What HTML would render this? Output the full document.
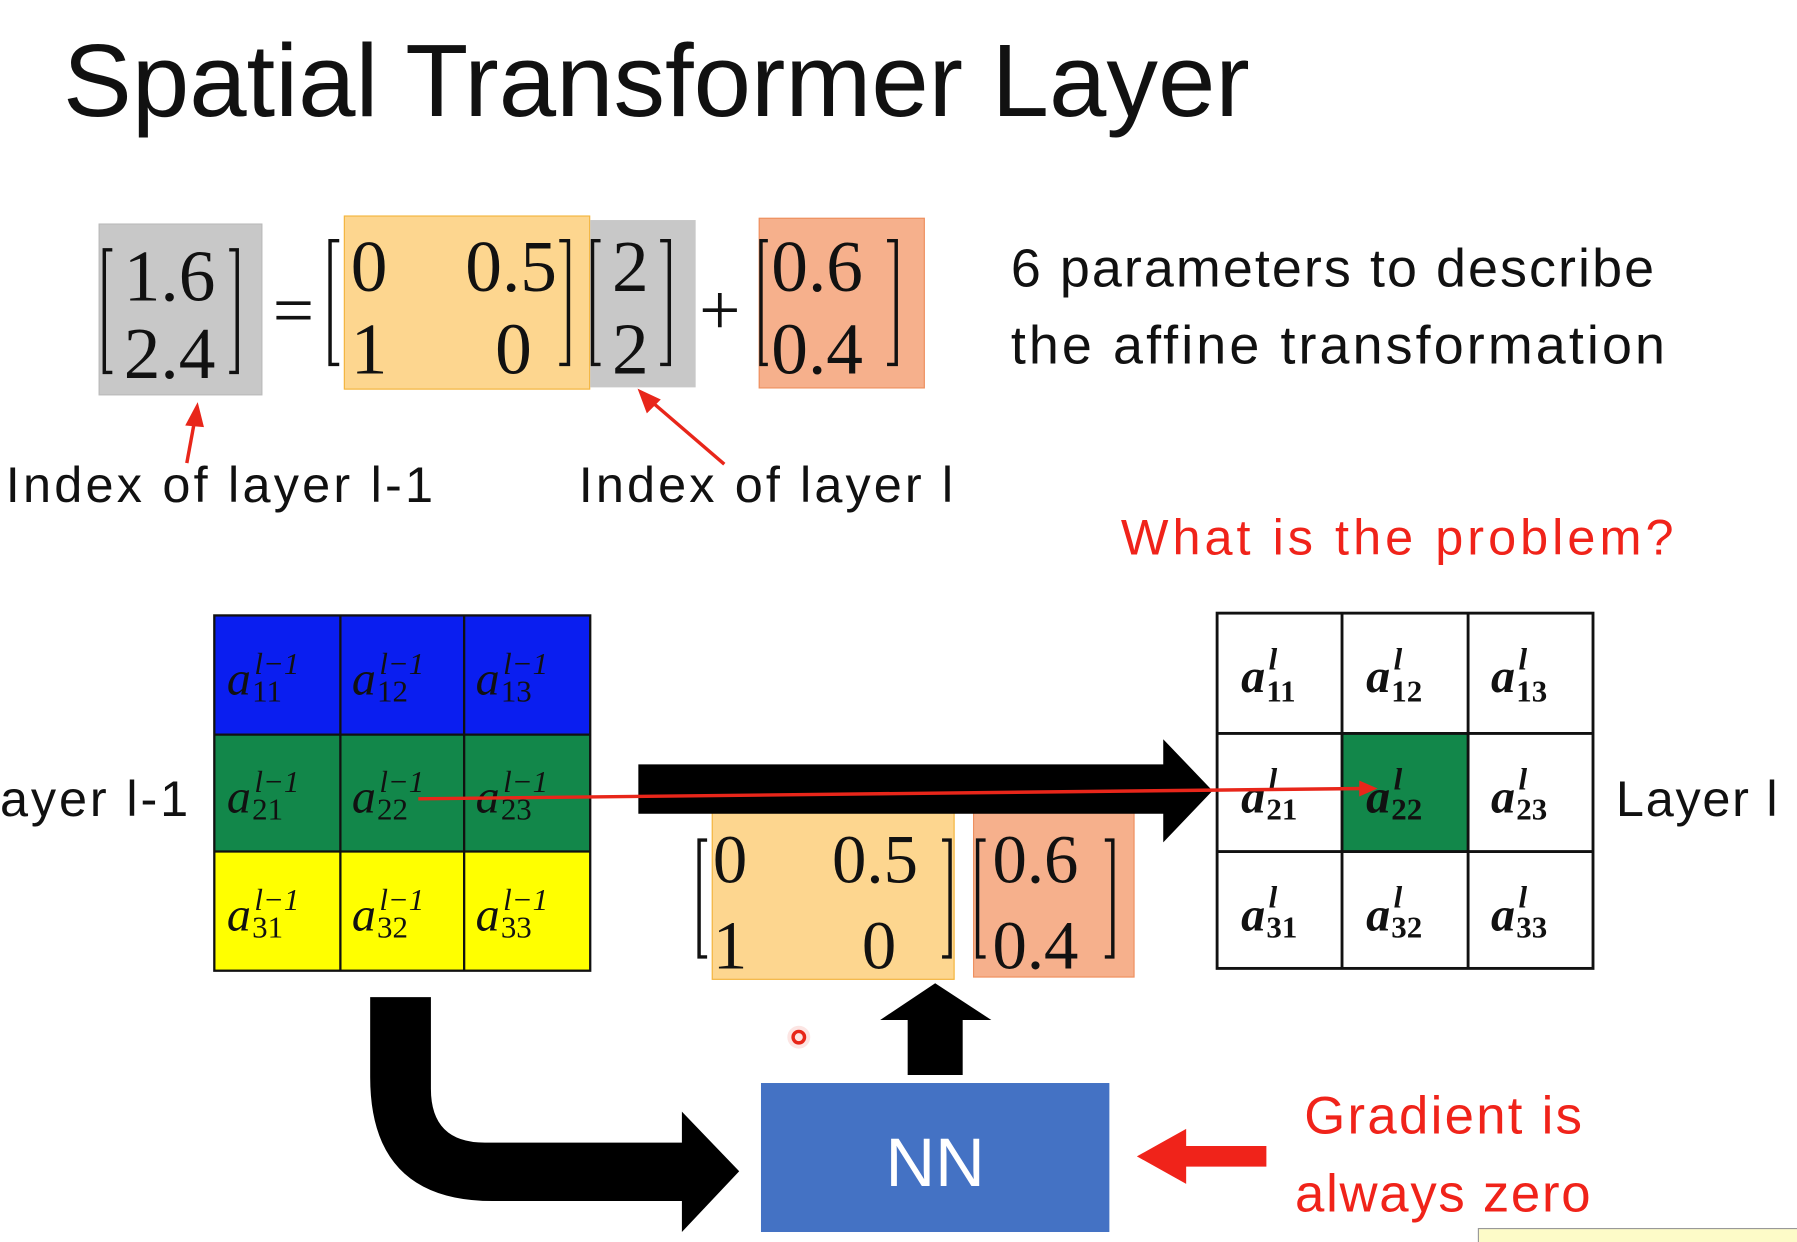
<!DOCTYPE html>
<html><head><meta charset="utf-8"><style>
html,body{margin:0;padding:0;background:#fff;width:1797px;height:1242px;overflow:hidden}
#s{position:absolute;left:0;top:0;width:1568px;height:1084px;transform:scale(1.14605);transform-origin:0 0;font-family:"Liberation Sans",sans-serif}
.a{position:absolute}
.t{position:absolute;white-space:nowrap;line-height:1;letter-spacing:2.5px}
</style></head><body><div id="s">
<div class="t" style="left:55px;top:26px;font-size:90px;color:#111;letter-spacing:0">Spatial Transformer Layer</div>

<div class="a" style="left:86px;top:195px;width:141px;height:148px;background:#c8c8c8;border:1px solid #bbb"></div>
<div class="a" style="left:300px;top:188px;width:213px;height:150px;background:#fdd68f;border:1px solid #f3b540"></div>
<div class="a" style="left:515px;top:192px;width:92px;height:146px;background:#c8c8c8"></div>
<div class="a" style="left:662px;top:190px;width:143px;height:147px;background:#f6b08c;border:1px solid #ee9060"></div>
<div class="a" style="left:621px;top:705px;width:212px;height:150px;background:#fdd68f;border:1px solid #f3b540;box-sizing:border-box"></div>
<div class="a" style="left:849px;top:707px;width:141px;height:146px;background:#f6b08c;border:1px solid #ee9060;box-sizing:border-box"></div>
<div class="a" style="left:187px;top:537px;width:328px;height:104px;background:#0a1ef0"></div>
<div class="a" style="left:187px;top:641px;width:328px;height:102px;background:#12874a"></div>
<div class="a" style="left:187px;top:743px;width:328px;height:104px;background:#ffff00"></div>

<svg class="a" style="left:0;top:0" width="1568" height="1084">
<g font-family="Liberation Serif,serif" font-size="64" fill="#111">
<text x="108" y="262">1.6</text><text x="108" y="330">2.4</text>
<text x="306" y="254">0</text><text x="406" y="254">0.5</text>
<text x="306" y="326">1</text><text x="432" y="326">0</text>
<text x="534" y="254">2</text><text x="534" y="326">2</text>
<text x="673" y="254">0.6</text><text x="673" y="326">0.4</text>
<text x="238" y="292" font-size="64">=</text>
<text x="610" y="292" font-size="64">+</text>
<text x="622" y="770" font-size="60">0</text><text x="726" y="770" font-size="60">0.5</text>
<text x="622" y="845" font-size="60">1</text><text x="752" y="845" font-size="60">0</text>
<text x="866" y="770" font-size="60">0.6</text><text x="866" y="845" font-size="60">0.4</text>
</g>
<g fill="none" stroke="#111" stroke-width="3">
<path d="M98 218 H91 V325 H98"/><path d="M200 218 H207 V325 H200"/>
<path d="M296 210 H288 V318 H296"/><path d="M488 210 H496 V318 H488"/>
<path d="M524 210 H517 V318 H524"/><path d="M576 210 H584 V318 H576"/>
<path d="M670 210 H664 V318 H670"/><path d="M774 210 H782 V318 H774"/>
<path d="M617 733 H610 V835 H617"/><path d="M822 733 H829 V835 H822"/>
<path d="M860 733 H853 V835 H860"/><path d="M964 733 H971 V835 H964"/>
</g>
<g stroke="#e8261a" stroke-width="3" fill="#e8261a">
<line x1="163" y1="404" x2="170" y2="366"/><polygon points="172,355 164,370 176,371"/>
<line x1="632" y1="405" x2="568" y2="350"/><polygon points="559,342 565,358 574,349"/>
</g>

<g stroke="#111" stroke-width="2" fill="none">
<rect x="187" y="537" width="328" height="310"/>
<line x1="297" y1="537" x2="297" y2="847"/><line x1="405" y1="537" x2="405" y2="847"/>
<line x1="187" y1="641" x2="515" y2="641"/><line x1="187" y1="743" x2="515" y2="743"/>
</g>
<rect x="1171" y="640" width="110" height="103" fill="#12874a"/>
<g stroke="#111" stroke-width="2.5" fill="none">
<rect x="1062" y="535" width="328" height="310"/>
<line x1="1171" y1="535" x2="1171" y2="845"/><line x1="1281" y1="535" x2="1281" y2="845"/>
<line x1="1062" y1="640" x2="1390" y2="640"/><line x1="1062" y1="743" x2="1390" y2="743"/>
</g>

<g font-family="Liberation Serif,serif" font-style="italic" fill="#111">
<g font-size="42">
<text x="198" y="606">a</text><text x="307" y="606">a</text><text x="415" y="606">a</text>
<text x="198" y="709">a</text><text x="307" y="709">a</text><text x="415" y="709">a</text>
<text x="198" y="812">a</text><text x="307" y="812">a</text><text x="415" y="812">a</text>
</g>
<g font-size="27">
<text x="222" y="588">l−1</text><text x="331" y="588">l−1</text><text x="439" y="588">l−1</text>
<text x="222" y="691">l−1</text><text x="331" y="691">l−1</text><text x="439" y="691">l−1</text>
<text x="222" y="794">l−1</text><text x="331" y="794">l−1</text><text x="439" y="794">l−1</text>
</g>
<g font-size="27" font-style="normal">
<text x="220" y="612">11</text><text x="329" y="612">12</text><text x="437" y="612">13</text>
<text x="220" y="715">21</text><text x="329" y="715">22</text><text x="437" y="715">23</text>
<text x="220" y="818">31</text><text x="329" y="818">32</text><text x="437" y="818">33</text>
</g>
<g font-weight="bold">
<g font-size="42">
<text x="1083" y="604">a</text><text x="1192" y="604">a</text><text x="1301" y="604">a</text>
<text x="1083" y="709">a</text><text x="1192" y="709">a</text><text x="1301" y="709">a</text>
<text x="1083" y="812">a</text><text x="1192" y="812">a</text><text x="1301" y="812">a</text>
</g>
<g font-size="27">
<text x="1107" y="584">l</text><text x="1216" y="584">l</text><text x="1325" y="584">l</text>
<text x="1107" y="689">l</text><text x="1216" y="689">l</text><text x="1325" y="689">l</text>
<text x="1107" y="792">l</text><text x="1216" y="792">l</text><text x="1325" y="792">l</text>
</g>
<g font-size="27" font-style="normal">
<text x="1105" y="612">11</text><text x="1214" y="612">12</text><text x="1323" y="612">13</text>
<text x="1105" y="715">21</text><text x="1214" y="715">22</text><text x="1323" y="715">23</text>
<text x="1105" y="818">31</text><text x="1214" y="818">32</text><text x="1323" y="818">33</text>
</g>
</g>
</g>

<polygon points="557,667 1015,667 1015,645 1058,690 1015,735 1015,710 557,710" fill="#000"/>
<line x1="365" y1="697" x2="1190" y2="688" stroke="#e8261a" stroke-width="3"/>
<polygon points="1202,688 1186,681 1186,695" fill="#e8261a"/>
<polygon points="792,938 840,938 840,890 865,890 816,858 768,890 792,890" fill="#000"/>
<path d="M323,870 H376 V950 Q376,997 423,997 H595 V970 L645,1022 L595,1075 V1048 H430 Q323,1048 323,940 Z" fill="#000"/>
<circle cx="697" cy="905" r="5" fill="none" stroke="#e8261a" stroke-width="3"/>
<circle cx="697" cy="905" r="10" fill="#e8261a" opacity="0.12"/>
<rect x="664" y="945" width="304" height="130" fill="#4472c4"/>
<polygon points="1105,1000 1035,1000 1035,985 992,1009 1035,1033 1035,1018 1105,1018" fill="#f0231a"/>
<rect x="1290" y="1072" width="290" height="20" fill="#fdfbc8" stroke="#999"/>
</svg>

<div class="t" style="left:882px;top:210px;font-size:47px;color:#111;letter-spacing:1.8px">6 parameters to describe</div>
<div class="t" style="left:882px;top:277px;font-size:47px;color:#111;letter-spacing:2.7px">the affine transformation</div>
<div class="t" style="left:5px;top:402px;font-size:44px;color:#111;letter-spacing:2.8px">Index of layer l-1</div>
<div class="t" style="left:505px;top:402px;font-size:44px;color:#111;letter-spacing:2.7px">Index of layer l</div>
<div class="t" style="left:978px;top:448px;font-size:44px;color:#f0231a;letter-spacing:3.5px">What is the problem?</div>
<div class="t" style="left:0px;top:676px;font-size:44px;color:#111">ayer l-1</div>
<div class="t" style="left:1410px;top:676px;font-size:44px;color:#111;letter-spacing:1.5px">Layer l</div>
<div class="t" style="left:664px;top:985px;width:304px;text-align:center;font-size:60px;color:#fff;letter-spacing:0">NN</div>
<div class="t" style="left:1138px;top:950px;font-size:46px;color:#f0231a;letter-spacing:2px">Gradient is</div>
<div class="t" style="left:1130px;top:1018px;font-size:46px;color:#f0231a;letter-spacing:1.5px">always zero</div>
</div></body></html>
